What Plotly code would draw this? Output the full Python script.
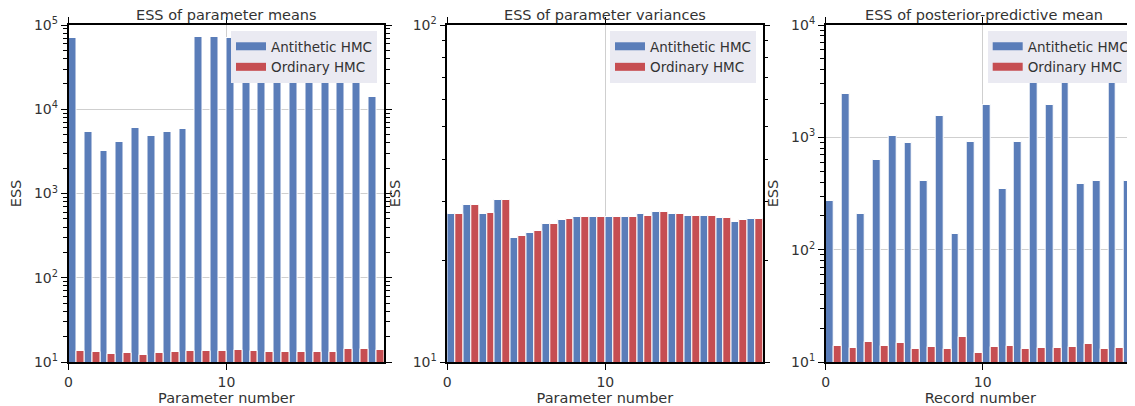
import plotly.graph_objects as go

# ---------------- data ----------------
param_idx = list(range(20))
record_idx = list(range(20))

mean_antithetic = [69500, 5330, 3230, 4050, 6050, 4820, 5330, 5830, 71400, 71400,
                   69500, 70000, 70000, 70000, 70000, 70000, 70000, 70000, 70000, 14100]
mean_ordinary = [13.6, 13.1, 12.4, 12.8, 12.1, 12.8, 13.1, 13.6, 13.6, 13.6,
                 14.0, 13.6, 13.1, 13.1, 13.1, 13.1, 13.1, 14.4, 14.4, 14.0]

var_antithetic = [27.4, 29.2, 27.4, 30.2, 23.4, 24.2, 25.7, 26.3, 26.9, 26.9,
                  26.9, 26.9, 27.4, 27.8, 27.4, 27.2, 27.2, 26.7, 26.1, 26.6]
var_ordinary = [27.4, 29.2, 27.7, 30.2, 23.7, 24.4, 25.7, 26.6, 26.9, 26.9,
                26.9, 26.9, 27.2, 27.8, 27.4, 27.2, 27.2, 26.7, 26.3, 26.6]

pred_antithetic = [272, 2415, 207, 624, 1027, 884, 408, 1559, 139, 902,
                   1940, 347, 902, 3700, 1940, 3700, 381, 408, 3260, 408]
pred_ordinary = [14.0, 13.3, 15.1, 14.0, 14.7, 13.0, 13.6, 13.0, 16.7, 12.0,
                 13.6, 14.0, 13.0, 13.3, 13.3, 13.6, 14.4, 13.0, 13.3, 14.4]

titles = ["ESS of parameter means", "ESS of parameter variances",
          "ESS of posterior-predictive mean"]
xlabels = ["Parameter number", "Parameter number", "Record number"]
series_names = ["Antithetic HMC", "Ordinary HMC"]

# ---------------- style ----------------
OFF = 8  # default page body margin offsets the figure by 8px
W, H = 1135 - OFF, 406 - OFF
BLUE = "#5A7DB9"
RED = "#C64E52"
TXT = "#333333"
FONT = "DejaVu Sans"

fig = go.Figure()

panels = [
    (param_idx, mean_antithetic, mean_ordinary),
    (param_idx, var_antithetic, var_ordinary),
    (record_idx, pred_antithetic, pred_ordinary),
]
legend_ids = ["legend", "legend2", "legend3"]

for k, (xs, anti, ordi) in enumerate(panels):
    sfx = "" if k == 0 else str(k + 1)
    fig.add_trace(go.Bar(
        x=xs, y=anti, name=series_names[0], width=0.5, offset=0,
        marker=dict(color=BLUE, line=dict(color="white", width=1)),
        xaxis="x" + sfx, yaxis="y" + sfx, showlegend=False,
    ))
    fig.add_trace(go.Bar(
        x=xs, y=ordi, name=series_names[1], width=0.5, offset=0.5,
        marker=dict(color=RED, line=dict(color="white", width=1)),
        xaxis="x" + sfx, yaxis="y" + sfx, showlegend=False,
    ))
    # legend entries drawn as wide patches (matplotlib-style swatches)
    for name, col in zip(series_names, [BLUE, RED]):
        fig.add_trace(go.Scatter(
            x=[None], y=[None], mode="lines", name=name,
            line=dict(color=col, width=8),
            xaxis="x" + sfx, yaxis="y" + sfx, legend=legend_ids[k],
            hoverinfo="skip",
        ))

# pixel layout of plotting areas (reference-window pixels)
x_dom = [(68.5, 384.3), (447.3, 762.5), (825.7, 1135)]
x_rng = [(0, 20), (0, 19.95), (0, (1135 - 825.7) / 15.7)]
y_rng = [(1, 5), (1, 2), (1, 4)]
y_top, y_bot = 25 - OFF, 362 - OFF
ydom = [1 - y_bot / H, 1 - y_top / H]

layout = dict(
    width=W, height=H,
    margin=dict(l=0, r=0, t=0, b=0, autoexpand=False),
    paper_bgcolor="white", plot_bgcolor="white",
    barmode="overlay", bargap=0,
    font=dict(family=FONT, color=TXT, size=13),
    annotations=[],
)

for k in range(3):
    sfx = "" if k == 0 else str(k + 1)
    lo, hi = y_rng[k]
    tv = list(range(lo, hi + 1))
    layout["xaxis" + sfx] = dict(
        domain=[(x_dom[k][0] - OFF) / W, min(1.0, (x_dom[k][1] - OFF) / W)],
        range=list(x_rng[k]),
        anchor="y" + sfx,
        automargin=False,
        tickvals=[0, 10], ticktext=["0", "10"],
        ticks="outside", ticklen=6, tickwidth=1.2, tickcolor="black",
        showline=True, linecolor="black", linewidth=1.5,
        mirror="ticks",
        showgrid=True, gridcolor="#cfcfcf", gridwidth=1,
        zeroline=False,
        tickfont=dict(size=14, color=TXT),
        title=dict(text=xlabels[k], font=dict(size=14.5, color=TXT), standoff=4),
    )
    layout["yaxis" + sfx] = dict(
        domain=ydom,
        type="log",
        range=[lo, hi],
        anchor="x" + sfx,
        automargin=False,
        tickvals=[10 ** v for v in tv],
        ticktext=["10<sup>%d</sup>" % v for v in tv],
        ticks="outside", ticklen=6, tickwidth=1.2, tickcolor="black",
        showline=True, linecolor="black", linewidth=1.5,
        mirror=("ticks" if k < 2 else False),
        showgrid=True, gridcolor="#cfcfcf", gridwidth=1,
        zeroline=False,
        minor=dict(ticks="outside", ticklen=3.5, tickwidth=1, tickcolor="black",
                   dtick="D1", showgrid=False),
        tickfont=dict(size=14, color=TXT),
        title=dict(text="ESS", font=dict(size=14.5, color=TXT), standoff=9),
    )
    cx = (x_dom[k][0] + x_dom[k][0] + 316) / 2 - OFF
    layout["annotations"].append(dict(
        text=titles[k], x=cx / W, y=1 - (14.5 - OFF) / H, xref="paper", yref="paper",
        xanchor="center", yanchor="middle", showarrow=False, borderpad=0,
        font=dict(size=14.5, color=TXT),
    ))

leg_x = [231, 610, 987.7]
for k in range(3):
    key = legend_ids[k]
    layout[key] = dict(
        x=(leg_x[k] - OFF) / W, xanchor="left",
        y=1 - (31 - OFF) / H, yanchor="top",
        bgcolor="#EAEAF2", borderwidth=0,
        font=dict(size=13.5, color=TXT),
        itemwidth=30, tracegroupgap=0,
    )

fig.update_layout(**layout)
fig.write_html("out.html")
